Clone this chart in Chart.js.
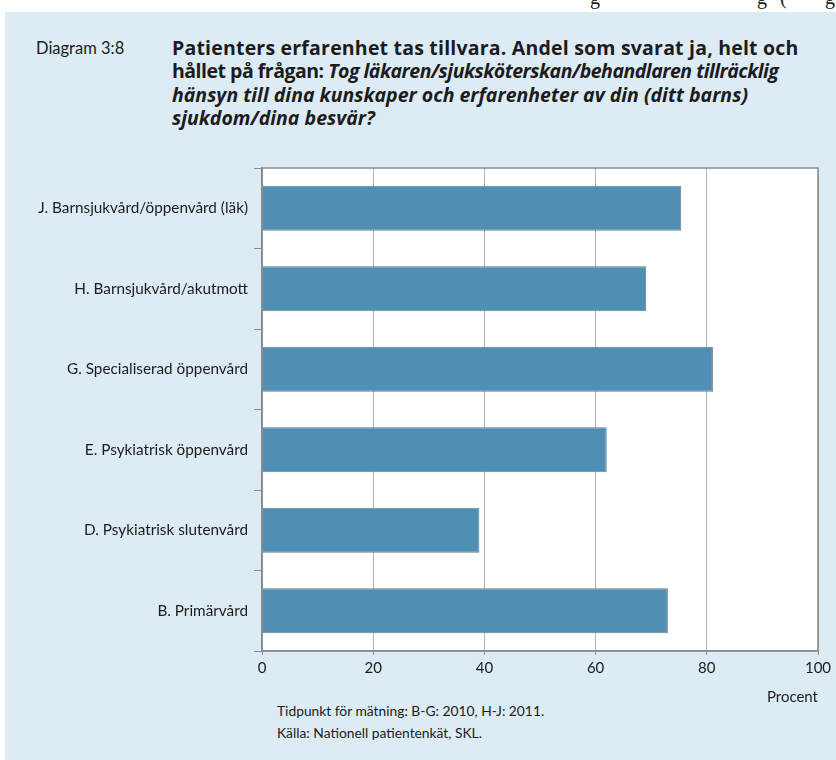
<!DOCTYPE html>
<html>
<head>
<meta charset="utf-8">
<script src="https://cdn.jsdelivr.net/npm/chart.js@4.4.0/dist/chart.umd.min.js"></script>
<style>
  html, body { margin: 0; padding: 0; background: #fff; }
  #page { position: relative; width: 836px; height: 760px; overflow: hidden; font-family: Lato, sans-serif; color: #1c1c1c; }
  #top { position: absolute; left: 0; top: 0; width: 836px; height: 11px; overflow: hidden; font-family: 'Liberation Serif', serif; font-size: 20px; color: #222; }
  #top span { position: absolute; top: -14px; }
  #panel { position: absolute; left: 5px; top: 12px; right: 0; bottom: 0; background: #dcebf4; }
  #diag { position: absolute; left: 36px; top: 38px; font-size: 16.5px; }
  #title { position: absolute; left: 172px; top: 36px; font-family: 'Open Sans', sans-serif; font-size: 19.5px; font-weight: bold; line-height: 23.4px; white-space: nowrap; }
  #title .l1 { letter-spacing: 0.2px; }
  #title .l2 { letter-spacing: -0.5px; }
  #foot { position: absolute; left: 277px; top: 700px; font-size: 13.8px; line-height: 21.5px; white-space: nowrap; }
  canvas { position: absolute; left: 0; top: 0; }
</style>
</head>
<body>
<div id="page">
  <div id="top"><span style="left:590px">g</span><span style="left:757px">g</span><span style="left:780px">(</span><span style="left:825px">g</span></div>
  <div id="panel"></div>
  <div id="diag">Diagram 3:8</div>
  <div id="title"><span class="l1">Patienters erfarenhet tas tillvara. Andel som svarat ja, helt och</span><br><span class="l2">hållet på frågan: <i>Tog läkaren/sjuksköterskan/behandlaren tillräcklig</i></span><br><i>hänsyn till dina kunskaper och erfarenheter av din (ditt barns)<br>sjukdom/dina besvär?</i></div>
  <div id="foot">Tidpunkt för mätning: B-G: 2010, H-J: 2011.<br>Källa: Nationell patientenkät, SKL.</div>
  <canvas id="chart" width="836" height="760"></canvas>
</div>
<script>
// andel som svarat ja, helt och hållet (procent)
const categories = [
  'J. Barnsjukvård/öppenvård (läk)',
  'H. Barnsjukvård/akutmott',
  'G. Specialiserad öppenvård',
  'E. Psykiatrisk öppenvård',
  'D. Psykiatrisk slutenvård',
  'B. Primärvård'
];
const andelJa = [75.4, 69.1, 81.1, 62.0, 39.1, 73.0];
const xMin = 0, xMax = 100, xStep = 20;
const xTitle = 'Procent';

// vit plotyta + ram runt hela ytan
const plotFrame = {
  id: 'plotFrame',
  beforeDraw(chart) {
    const { ctx, chartArea: a } = chart;
    ctx.save();
    ctx.fillStyle = '#fff';
    ctx.fillRect(a.left, a.top, a.width, a.height);
    ctx.restore();
  },
  afterDraw(chart) {
    const { ctx, chartArea: a } = chart;
    ctx.save();
    ctx.strokeStyle = '#8a8a8a';
    ctx.lineWidth = 1.5;
    ctx.strokeRect(a.left, a.top, a.width, a.height);
    ctx.restore();
  }
};

new Chart(document.getElementById('chart'), {
  type: 'bar',
  data: {
    labels: categories,
    datasets: [{
      data: andelJa,
      backgroundColor: '#4f8fb4',
      borderColor: '#66808f',
      borderWidth: 1,
      categoryPercentage: 1,
      barPercentage: 0.56
    }]
  },
  options: {
    indexAxis: 'y',
    responsive: false,
    animation: false,
    layout: { padding: { top: 168, right: 18, bottom: 0, left: 0 } },
    plugins: { legend: { display: false }, tooltip: { enabled: false } },
    scales: {
      x: {
        min: xMin, max: xMax,
        ticks: { stepSize: xStep, padding: 4, color: '#1c1c1c', font: { family: 'Lato', size: 15 } },
        grid: { color: '#b4b4b4', tickColor: '#8a8a8a', tickLength: 4, lineWidth: 1 },
        border: { color: '#8a8a8a', width: 1.5 },
        title: {
          display: true, text: xTitle, align: 'end', color: '#1c1c1c',
          font: { family: 'Lato', size: 15 }, padding: { top: 0, bottom: 54 }
        },
        afterFit(scale) { scale.height = 109; }
      },
      y: {
        ticks: { padding: 6, color: '#1c1c1c', font: { family: 'Lato', size: 15.3 } },
        grid: { drawOnChartArea: false, tickLength: 8, color: '#8a8a8a' },
        border: { color: '#8a8a8a', width: 1.5 },
        afterFit(scale) { scale.width = 262; }
      }
    }
  },
  plugins: [plotFrame]
});
</script>
</body>
</html>
